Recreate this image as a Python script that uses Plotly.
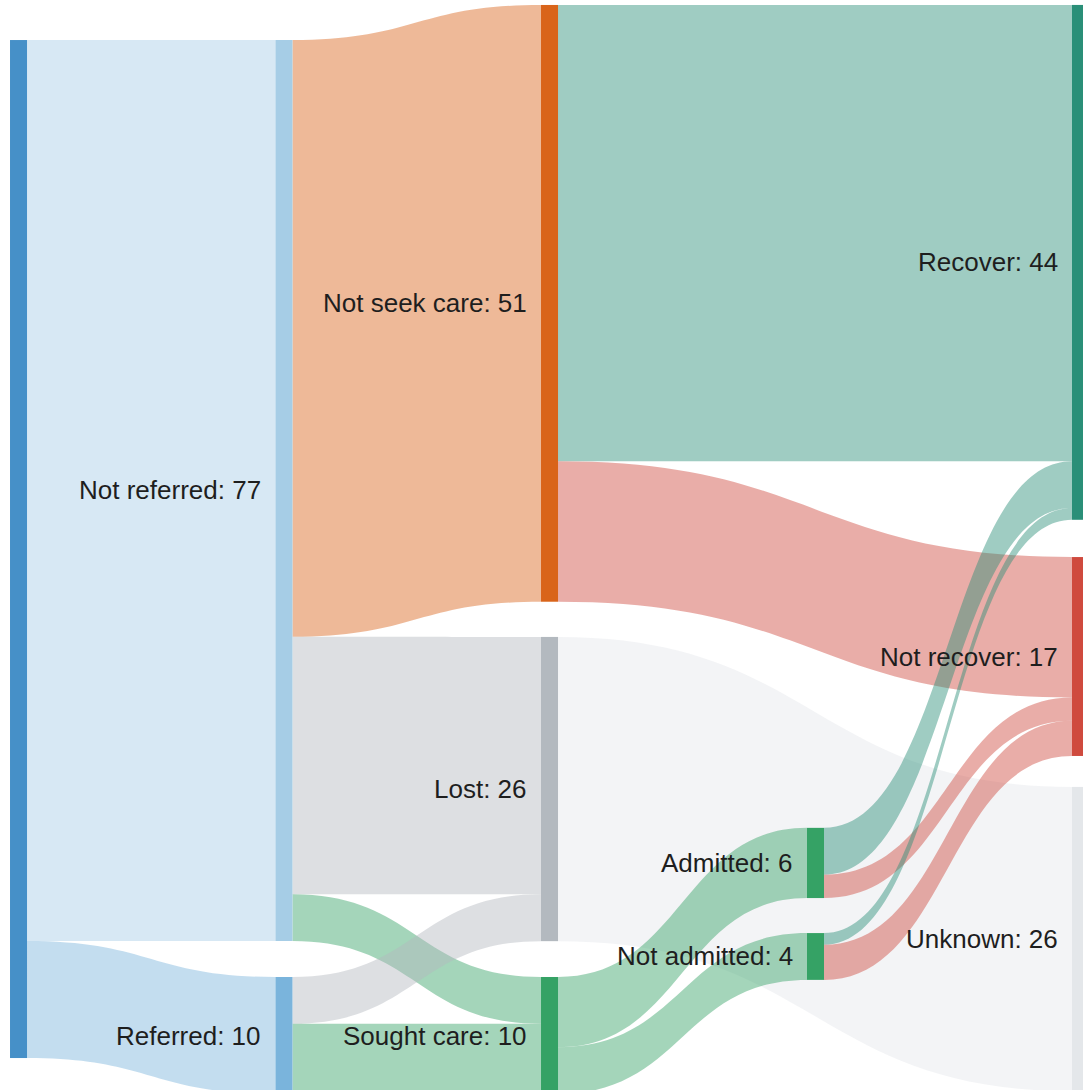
import plotly.graph_objects as go

# ---- data ----
node_labels = ["", "Not referred: 77", "Referred: 10", "Not seek care: 51", "Lost: 26",
               "Sought care: 10", "Admitted: 6", "Not admitted: 4",
               "Recover: 44", "Not recover: 17", "Unknown: 26"]
link_source = [0, 0, 1, 1, 1, 2, 2, 3, 3, 4, 5, 5, 6, 6, 7, 7]
link_target = [1, 2, 3, 4, 5, 4, 5, 8, 9, 10, 6, 7, 8, 9, 8, 9]
link_value = [77, 10, 51, 22, 4, 4, 6, 39, 12, 26, 6, 4, 4, 2, 1, 3]

# ---- styling / layout ----
W, H = 1083, 1090
THICK = 17
node_colors = ["#4690c8", "#a6cde6", "#7ab4dc", "#d9641a", "#b3b9bf",
               "#35a265", "#35a265", "#35a265", "#2a8f78", "#cf4a3e", "#e4e7ea"]
node_x = [0.0171, 0.2622, 0.2622, 0.5074, 0.5074, 0.5074, 0.753, 0.753, 0.9977, 0.9977, 0.9977]
node_y = [0.5037, 0.45, 0.95, 0.2783, 0.7239, 0.95, 0.7917, 0.8775, 0.2407, 0.6023, 0.8615]


def hex_to_rgba(h, a):
    h = h.lstrip("#")
    r, g, b = int(h[0:2], 16), int(h[2:4], 16), int(h[4:6], 16)
    return f"rgba({r},{g},{b},{a})"


link_colors = [hex_to_rgba(node_colors[t], 0.45) for t in link_target]

fig = go.Figure(go.Sankey(
    arrangement="fixed",
    node=dict(
        label=[""] * len(node_labels),
        color=node_colors,
        x=node_x,
        y=node_y,
        pad=36,
        thickness=THICK,
        line=dict(width=0),
        hoverinfo="skip",
    ),
    link=dict(
        source=link_source,
        target=link_target,
        value=link_value,
        color=link_colors,
        line=dict(width=0),
        hoverinfo="skip",
    ),
    domain=dict(x=[0, 1], y=[0, 1]),
))

# node labels, placed to the left of each node
for lab, nx, ny in zip(node_labels, node_x, node_y):
    if not lab:
        continue
    fig.add_annotation(
        x=nx - (THICK / 2 + 12) / W, y=1 - ny,
        xref="paper", yref="paper",
        xanchor="right", yanchor="middle",
        text=lab, showarrow=False,
        font=dict(family="Arial, Liberation Sans, sans-serif", size=26, color="#1e1e1e"),
    )

fig.update_layout(
    width=W, height=H,
    margin=dict(l=0, r=0, t=0, b=0),
    paper_bgcolor="white",
    plot_bgcolor="white",
)

fig.write_html("out.html", config={"displayModeBar": False},
               post_script="document.body.style.margin='0';")
